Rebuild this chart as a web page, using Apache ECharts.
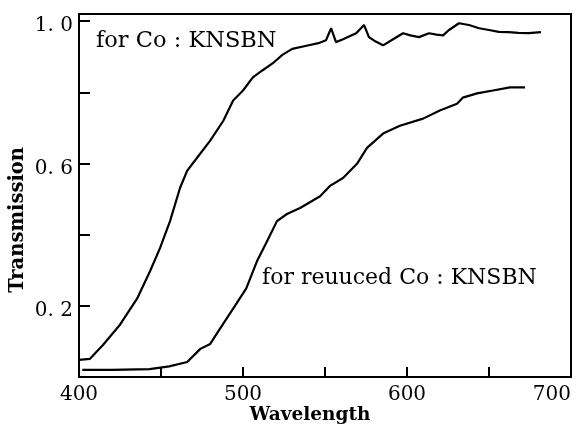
<!DOCTYPE html>
<html>
<head>
<meta charset="utf-8">
<script src="https://cdn.jsdelivr.net/npm/echarts@6/dist/echarts.min.js"></script>
<style>
  html, body { margin: 0; padding: 0; background: #fff; }
  #chart { width: 576px; height: 424px; }
</style>
</head>
<body>
<div id="chart"></div>
<script>
// Co:KNSBN
const coWl = [400, 406.7, 414.6, 425, 435.4, 443.3, 449.4, 455.5, 461.6, 465.9, 472, 480, 488, 494, 500, 506, 512, 518, 524, 530, 538, 546, 550.6, 553.7, 556.7, 561, 569, 573.8, 576.8, 580, 585.4, 591.5, 597.6, 602, 607.3, 613.4, 618, 622, 625.6, 631.7, 637.8, 644, 650, 656, 662, 668, 674.4, 681.7]
const coT = [0.048, 0.051, 0.090, 0.147, 0.220, 0.297, 0.362, 0.438, 0.531, 0.579, 0.616, 0.664, 0.72, 0.777, 0.805, 0.842, 0.862, 0.881, 0.905, 0.922, 0.930, 0.938, 0.946, 0.980, 0.941, 0.949, 0.966, 0.989, 0.955, 0.945, 0.932, 0.949, 0.966, 0.960, 0.955, 0.966, 0.962, 0.960, 0.975, 0.994, 0.989, 0.980, 0.975, 0.970, 0.969, 0.967, 0.966, 0.969]

// reduced Co:KNSBN
const redWl = [402, 420, 443, 455, 466, 474, 480, 486, 494, 502, 508.5, 514.6, 520.7, 526.8, 534.8, 547, 553, 561, 569.5, 575.6, 585.4, 595.7, 609.8, 620, 630.5, 634, 642.7, 652.4, 662.8, 672]
const redT = [0.020, 0.020, 0.022, 0.030, 0.042, 0.079, 0.093, 0.136, 0.192, 0.249, 0.325, 0.381, 0.438, 0.458, 0.475, 0.508, 0.537, 0.559, 0.599, 0.644, 0.684, 0.706, 0.726, 0.749, 0.768, 0.785, 0.797, 0.805, 0.814, 0.814]

const xLabels = [400, 500, 600, 700]
const yLabels = [0.2, 0.6, 1.0]

const serif = '"DejaVu Serif", serif'

function pairs(xs, ys) {
  return xs.map((x, i) => [x, ys[i]])
}

const chart = echarts.init(document.getElementById('chart'))

const lineStyle = { color: '#000', width: 2.2 }

const option = {
  animation: false,
  backgroundColor: '#fff',
  grid: {
    left: 79,
    right: 5,
    top: 14,
    bottom: 47,
    show: true,
    borderColor: '#000',
    borderWidth: 2
  },
  xAxis: {
    type: 'value',
    min: 400,
    max: 700,
    interval: 50,
    axisLine: { lineStyle: { color: '#000', width: 2 } },
    axisTick: { inside: true, length: 10, lineStyle: { color: '#000', width: 2 } },
    splitLine: { show: false },
    axisLabel: {
      color: '#000',
      fontFamily: serif,
      fontSize: 20,
      margin: 8,
      alignMaxLabel: 'right',
      formatter: v => (xLabels.includes(v) ? String(v) : '')
    }
  },
  yAxis: {
    type: 'value',
    min: 0,
    max: 1.02,
    interval: 0.2,
    axisLine: { lineStyle: { color: '#000', width: 2 } },
    axisTick: { inside: true, length: 11, lineStyle: { color: '#000', width: 2 } },
    splitLine: { show: false },
    axisLabel: {
      color: '#000',
      fontFamily: serif,
      fontSize: 20,
      margin: 6,
      verticalAlign: 'top',
      lineHeight: 10,
      formatter: v => {
        const hit = yLabels.find(l => Math.abs(l - v) < 1e-6)
        return hit !== undefined ? hit.toFixed(1).replace('.', '. ') : ''
      }
    }
  },
  graphic: [
    {
      type: 'text',
      left: 8,
      top: 147,
      rotation: Math.PI / 2,
      style: {
        text: 'Transmission',
        font: 'bold 19.5px "DejaVu Serif", serif',
        fill: '#000'
      }
    },
    {
      type: 'text',
      x: 310,
      y: 415,
      style: {
        text: 'Wavelength',
        font: 'bold 18.5px "DejaVu Serif", serif',
        fill: '#000',
        align: 'center',
        verticalAlign: 'middle'
      }
    },
    {
      type: 'text',
      x: 96,
      y: 41,
      style: {
        text: 'for Co : KNSBN',
        font: '22.5px "DejaVu Serif", serif',
        fill: '#000',
        verticalAlign: 'middle'
      }
    },
    {
      type: 'text',
      x: 262,
      y: 278,
      style: {
        text: 'for reuuced Co : KNSBN',
        font: '22px "DejaVu Serif", serif',
        fill: '#000',
        verticalAlign: 'middle'
      }
    }
  ],
  series: [
    {
      name: 'for Co : KNSBN',
      type: 'line',
      showSymbol: false,
      lineStyle: lineStyle,
      data: pairs(coWl, coT)
    },
    {
      name: 'for reuuced Co : KNSBN',
      type: 'line',
      showSymbol: false,
      lineStyle: lineStyle,
      data: pairs(redWl, redT)
    }
  ]
}

chart.setOption(option)
</script>
</body>
</html>
